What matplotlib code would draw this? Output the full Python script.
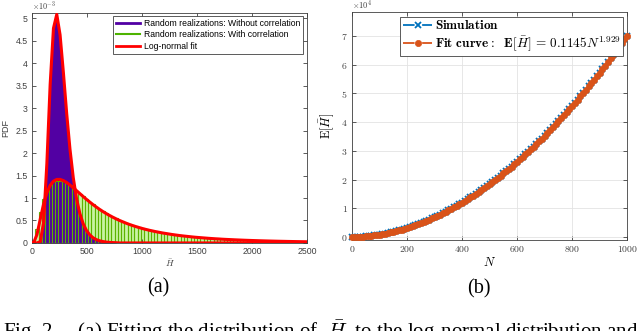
import matplotlib
matplotlib.use("Agg")
import matplotlib.pyplot as plt
import numpy as np
from matplotlib.lines import Line2D
from matplotlib.ticker import FuncFormatter

plt.rcParams['mathtext.fontset'] = 'cm'

# ---- panel (a): histogram of H-bar, bin width 30 ----
bin_width = 30
bin_centers = np.arange(15, 2500, bin_width)

# with correlation (x1e-3), one value per bin
pdf_corr = [0.02, 0.30, 0.68, 0.98, 1.20, 1.31, 1.37, 1.39, 1.39, 1.37,
            1.33, 1.28, 1.22, 1.16, 1.10, 1.04, 0.98, 0.92, 0.86, 0.81,
            0.76, 0.71, 0.665, 0.62, 0.58, 0.545, 0.51, 0.48, 0.45, 0.42,
            0.395, 0.37, 0.35, 0.33, 0.31, 0.29, 0.275, 0.26, 0.245, 0.23,
            0.218, 0.205, 0.195, 0.184, 0.174, 0.165, 0.156, 0.148, 0.14, 0.133,
            0.126, 0.12, 0.114, 0.108, 0.103, 0.098, 0.093, 0.089, 0.085, 0.081,
            0.077, 0.073, 0.07, 0.067, 0.064, 0.061, 0.058, 0.056, 0.053, 0.051,
            0.049, 0.047, 0.045, 0.043, 0.041, 0.039, 0.038, 0.036, 0.035, 0.033,
            0.032, 0.031, 0.03]

# without correlation (x1e-3), first bins only, rest are ~0
pdf_nocorr = [0.0, 0.0, 0.03, 0.45, 1.77, 3.53, 4.78, 5.10, 4.63, 3.80,
              2.88, 2.09, 1.45, 0.98, 0.65, 0.43, 0.28, 0.18, 0.115, 0.074,
              0.047, 0.031, 0.02, 0.013, 0.008, 0.005]

# log-normal fit curves (x1e-3), read at 0, bin centers, 2500
fit_x = [0] + list(bin_centers) + [2500]
fit_corr = [0, 0.005, 0.186, 0.530, 0.863, 1.115, 1.281, 1.375, 1.414, 1.414, 1.388,
            1.345, 1.289, 1.228, 1.163, 1.098, 1.033, 0.970, 0.910, 0.852, 0.798,
            0.746, 0.698, 0.653, 0.611, 0.572, 0.535, 0.501, 0.470, 0.440, 0.412,
            0.387, 0.363, 0.341, 0.320, 0.301, 0.283, 0.267, 0.251, 0.237, 0.223,
            0.211, 0.199, 0.187, 0.177, 0.167, 0.158, 0.150, 0.142, 0.134, 0.127,
            0.121, 0.115, 0.109, 0.103, 0.098, 0.093, 0.089, 0.084, 0.080, 0.0765,
            0.0728, 0.0694, 0.0662, 0.0631, 0.0601, 0.0574, 0.0548, 0.0524, 0.0500, 0.0478,
            0.0457, 0.0437, 0.0418, 0.0400, 0.0383, 0.0367, 0.0352, 0.0336, 0.0323, 0.0309,
            0.0297, 0.0284, 0.0273, 0.0263]
fit_nocorr = [0, 0.0, 0.0, 0.03, 0.451, 1.767, 3.530, 4.778, 5.087, 4.632, 3.796,
              2.883, 2.087, 1.450, 0.982, 0.654, 0.428, 0.277, 0.180, 0.1155, 0.074,
              0.047, 0.031, 0.0195, 0.0126, 0.008, 0.005]
fit_nocorr = fit_nocorr + [0.0] * (len(fit_x) - len(fit_nocorr))

legend_a = ["Random realizations: Without correlation",
            "Random realizations: With correlation",
            "Log-normal fit"]

# ---- panel (b): E[H-bar] vs N ----
n_vals = np.arange(0, 1001, 10)
e_h_sim = [0, 10, 37, 81, 141, 217, 308, 415, 537, 674,
           826, 992, 1174, 1370, 1580, 1805, 2044, 2298, 2566, 2849,
           3144, 3457, 3779, 4119, 4470, 4837, 5215, 5610, 6017, 6440,
           6873, 7325, 7785, 8263, 8750, 9256, 9770, 10304, 10845, 11404,
           11972, 12560, 13153, 13769, 14389, 15028, 15678, 16345, 17018, 17713,
           18414, 19135, 19861, 20610, 21362, 22134, 22912, 23712, 24517, 25342,
           26175, 27028, 27883, 28762, 29645, 30550, 31457, 32390, 33318, 34279,
           35240, 36224, 37205, 38214, 39225, 40263, 41295, 42357, 43420, 44502,
           45588, 46699, 47811, 48951, 50090, 51250, 52420, 53604, 54789, 56004,
           57214, 58458, 59698, 60966, 62221, 63523, 64802, 66123, 67431, 68779,
           70114]

purple = '#5200a3'
green_edge = (0.36, 0.70, 0.0, 1.0)
green_face = (0.62, 0.92, 0.35, 0.55)
red = '#ff0000'
blue = '#0072BD'
orange = '#D95319'
sans = ['Liberation Sans', 'DejaVu Sans']
serif = ['Liberation Serif', 'DejaVu Serif']

fig = plt.figure(figsize=(6.4, 3.31), dpi=100)
ax1 = fig.add_axes([0.050, 0.266, 0.430, 0.695])
ax2 = fig.add_axes([0.550, 0.275, 0.430, 0.689])

# --- left panel ---
corr_h = np.array(pdf_corr) * 1e-3
# light faces of the correlated bars go under the purple shape, edges over it
ax1.bar(bin_centers, corr_h, width=bin_width, facecolor=green_face,
        edgecolor='none', zorder=1)
ax1.fill_between(bin_centers[:len(pdf_nocorr)], np.array(pdf_nocorr) * 1e-3,
                 color=purple, lw=0, zorder=2)
ax1.bar(bin_centers, corr_h, width=bin_width, facecolor='none',
        edgecolor=green_edge, linewidth=0.8, zorder=3)
ax1.plot(fit_x, np.array(fit_nocorr) * 1e-3, color=red, lw=2.2, zorder=4)
ax1.plot(fit_x, np.array(fit_corr) * 1e-3, color=red, lw=2.2, zorder=4)

ax1.set_xlim(0, 2500)
ax1.set_ylim(0, 5.12e-3)
ax1.set_xticks([0, 500, 1000, 1500, 2000, 2500])
ax1.set_yticks(np.arange(0, 5.01e-3, 0.5e-3))
ax1.yaxis.set_major_formatter(FuncFormatter(lambda v, p: '%g' % round(v * 1e3, 2)))
ax1.tick_params(direction='in', top=True, right=True, length=3, width=0.6,
                labelsize=6.3, colors='#404040', pad=3)
for lab in ax1.get_xticklabels() + ax1.get_yticklabels():
    lab.set_family(sans)
for s in ax1.spines.values():
    s.set_color('#404040')
    s.set_linewidth(0.6)
ax1.set_ylabel('PDF', fontsize=6.5, family=sans, color='#404040', labelpad=4)
ax1.set_xlabel(r'$\bar{H}$', fontsize=6.5, color='#404040', labelpad=1)
ax1.text(0.0, 1.003, r'$\times10^{-3}$', transform=ax1.transAxes, fontsize=5.8,
         color='#404040', va='bottom', ha='left')

handles_a = [Line2D([], [], color=purple, lw=2),
             Line2D([], [], color='#4db300', lw=1.5),
             Line2D([], [], color=red, lw=2)]
leg1 = ax1.legend(handles_a, legend_a, loc='upper right', bbox_to_anchor=(0.992, 0.995),
                  prop={'family': sans, 'size': 6.2}, fancybox=False, framealpha=1,
                  edgecolor='#404040', handlelength=2.8, handletextpad=0.4,
                  borderpad=0.35, labelspacing=0.3, borderaxespad=0.2)
leg1.get_frame().set_linewidth(0.6)

# --- right panel ---
ax2.plot(n_vals, e_h_sim, linestyle='-.', color=blue, marker='x', ms=5, mew=1.3,
         lw=1.3, clip_on=False, zorder=3, label=r'$\mathbf{Simulation}$')
ax2.plot(n_vals, e_h_sim, linestyle='-.', color=orange, marker='o', ms=4.5, mew=0.5,
         lw=1.3, clip_on=False, zorder=4,
         label=r'$\mathbf{Fit\ curve:}\ \ \mathbf{E}[\bar{H}]\,=\,\mathbf{0.1145}N^{\mathbf{1.929}}$')
ax2.set_xlim(0, 1000)
ax2.set_ylim(-1045, 78370)
ax2.set_xticks(range(0, 1001, 200))
ax2.set_yticks(range(0, 70001, 10000))
ax2.xaxis.set_major_formatter(FuncFormatter(lambda v, p: r'$%d$' % v))
ax2.yaxis.set_major_formatter(FuncFormatter(lambda v, p: r'$%d$' % round(v / 1e4)))
ax2.grid(True, color='#e3e3e3', lw=0.6)
ax2.set_axisbelow(True)
ax2.tick_params(direction='in', top=True, right=True, length=3, width=0.6,
                labelsize=7, colors='#404040', pad=3)
for s in ax2.spines.values():
    s.set_color('#404040')
    s.set_linewidth(0.6)
ax2.set_xlabel(r'$N$', fontsize=9, labelpad=1)
ax2.set_ylabel(r'$\mathrm{E}[\bar{H}]$', fontsize=9, labelpad=4)
ax2.text(0.0, 1.003, r'$\times10^{4}$', transform=ax2.transAxes, fontsize=6,
         color='#404040', va='bottom', ha='left')
leg2 = ax2.legend(loc='upper right', bbox_to_anchor=(0.995, 0.99),
                  prop={'size': 9.5}, fancybox=False, framealpha=1, edgecolor='#404040',
                  handlelength=2.2, handletextpad=0.2, borderpad=0.2,
                  labelspacing=0.15, borderaxespad=0.2)
leg2.get_frame().set_linewidth(0.6)

# --- sub-captions and figure caption ---
fig.text(158 / 640, 1 - 288 / 331, '(a)', family=serif, fontsize=14.5, ha='center', va='center')
fig.text(479 / 640, 1 - 289 / 331, '(b)', family=serif, fontsize=14.5, ha='center', va='center')
fig.text(0.004, -0.02,
         r'Fig. 2.    (a) Fitting the distribution of  $\bar{H}$  to the log-normal distribution and',
         family=serif, fontsize=15, ha='left', va='baseline')

fig.savefig('out.png', dpi=100)
